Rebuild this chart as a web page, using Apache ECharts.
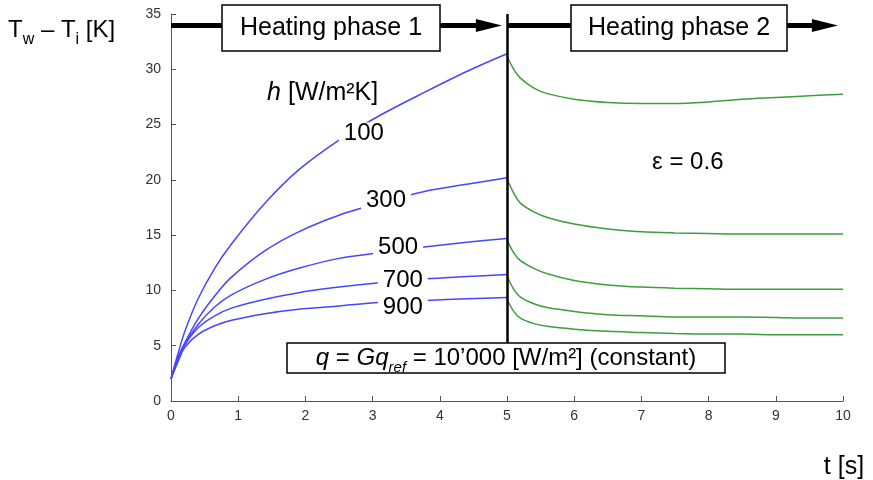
<!DOCTYPE html>
<html>
<head>
<meta charset="utf-8">
<script src="https://cdn.jsdelivr.net/npm/echarts@6/dist/echarts.min.js"></script>
<style>
html,body{margin:0;padding:0;background:#fff}
#main{width:873px;height:480px}
</style>
</head>
<body>
<div id="main"></div>
<script>
// heating phase 1 : t from 0 to 5 s
var heatT   = [0, 0.1, 0.2, 0.4, 0.65, 0.9, 1.4, 1.9, 2.5, 3.1, 3.8, 4.4, 5];
var heat100 = [2.0, 4.2, 6.2, 9.2, 12.0, 14.2, 17.9, 20.9, 23.6, 25.8, 28.0, 29.8, 31.4];
var heat300 = [2.0, 3.9, 5.2, 7.4, 9.5, 11.2, 13.6, 15.3, 16.8, 17.9, 19.0, 19.6, 20.2];
var heat500 = [2.0, 3.7, 5.1, 6.9, 8.5, 9.6, 11.0, 12.0, 12.9, 13.4, 13.95, 14.35, 14.7];
var heat700 = [2.0, 3.6, 5.0, 6.6, 7.7, 8.4, 9.2, 9.8, 10.3, 10.7, 11.05, 11.25, 11.45];
var heat900 = [2.0, 3.5, 4.8, 6.0, 6.8, 7.3, 7.9, 8.3, 8.6, 8.9, 9.1, 9.25, 9.35];

// heating phase 2 : t from 5 to 10 s (eps = 0.6)
var coolT   = [5, 5.1, 5.2, 5.4, 5.6, 6.0, 6.5, 7.0, 7.5, 8.0, 8.5, 9.0, 9.5, 10];
var cool100 = [31.2, 30.0, 29.2, 28.3, 27.8, 27.3, 27.0, 26.9, 26.9, 27.05, 27.3, 27.45, 27.6, 27.75];
var cool300 = [20.1, 18.8, 17.9, 17.1, 16.6, 16.0, 15.55, 15.3, 15.2, 15.15, 15.1, 15.1, 15.1, 15.1];
var cool500 = [14.6, 13.4, 12.7, 12.0, 11.5, 10.9, 10.5, 10.3, 10.2, 10.15, 10.1, 10.1, 10.1, 10.1];
var cool700 = [11.3, 10.1, 9.4, 8.8, 8.45, 8.1, 7.8, 7.7, 7.6, 7.6, 7.6, 7.55, 7.5, 7.5];
var cool900 = [9.2, 8.1, 7.5, 7.0, 6.75, 6.5, 6.3, 6.2, 6.1, 6.05, 6.05, 6.0, 6.0, 6.0];

var hNames = ['100', '300', '500', '700', '900'];
var xTicks = [0, 10, 1];   // min, max, step
var yTicks = [0, 35, 5];

var FONT = '"Liberation Sans", Arial, sans-serif';
var BLUE = '#4646ff';
var GREEN = '#3c9e3c';

function pairs(xs, ys) {
	return xs.map(function(x, i) { return [x, ys[i]]; });
}

function curve(name, xs, ys, color) {
	return {
		name: name,
		type: 'line',
		data: pairs(xs, ys),
		smooth: 0.3,
		showSymbol: false,
		symbol: 'none',
		silent: true,
		lineStyle: {color: color, width: 1.5},
		itemStyle: {color: color}
	};
}

var heats = [heat100, heat300, heat500, heat700, heat900];
var cools = [cool100, cool300, cool500, cool700, cool900];
var series = [];
heats.forEach(function(d, i) { series.push(curve('h' + hNames[i], heatT, d, BLUE)); });
cools.forEach(function(d, i) { series.push(curve('c' + hNames[i], coolT, d, GREEN)); });

// thick arrows on top + the phase separator
series.push({
	type: 'line', data: [], silent: true,
	markLine: {
		silent: true, animation: false,
		label: {show: false},
		symbol: ['none', 'triangle'],
		symbolSize: [13, 26],
		lineStyle: {color: '#000', type: 'solid', width: 5},
		data: [
			[{coord: [0, 33.95]}, {coord: [4.73, 33.95]}],
			[{coord: [5, 33.95]}, {coord: [9.73, 33.95]}]
		]
	}
});
series.push({
	type: 'line', data: [], silent: true,
	markLine: {
		silent: true, animation: false,
		label: {show: false},
		symbol: 'none',
		lineStyle: {color: '#000', type: 'solid', width: 2.5},
		data: [[{coord: [5, 35]}, {coord: [5, 5]}]]
	}
});

var chart = echarts.init(document.getElementById('main'));
chart.setOption({
	animation: false,
	backgroundColor: '#fff',
	grid: {left: 171, right: 30, top: 14, bottom: 79, containLabel: false, outerBoundsMode: 'none'},
	xAxis: {
		type: 'value', min: xTicks[0], max: xTicks[1], interval: xTicks[2],
		axisLine: {onZero: false, lineStyle: {color: '#555', width: 1}},
		axisTick: {inside: true, length: 5, lineStyle: {color: '#555'}},
		axisLabel: {color: '#333', fontSize: 14, fontFamily: FONT, margin: 8},
		splitLine: {show: false}
	},
	yAxis: {
		type: 'value', min: yTicks[0], max: yTicks[1], interval: yTicks[2],
		axisLine: {onZero: false, lineStyle: {color: '#555', width: 1}},
		axisTick: {inside: true, length: 5, lineStyle: {color: '#555'}},
		axisLabel: {color: '#333', fontSize: 14, fontFamily: FONT, margin: 10},
		splitLine: {show: false}
	},
	series: series
});

function px(t, v) { return chart.convertToPixel({gridIndex: 0}, [t, v]); }

function tag(text, t, v, extra) {
	var p = px(t, v);
	return {
		type: 'text', z: 100, x: p[0], y: p[1], silent: true,
		style: Object.assign({
			text: text, fontSize: 24, fontFamily: FONT, fill: '#000',
			align: 'center', verticalAlign: 'middle',
			backgroundColor: '#fff', padding: [0, 5], lineHeight: 22
		}, extra || {})
	};
}

function box(x0, y0, x1, y1, text, fs, rich) {
	return [{
		type: 'rect', z: 100, silent: true,
		shape: {x: x0, y: y0, width: x1 - x0, height: y1 - y0},
		style: {fill: '#fff', stroke: '#000', lineWidth: 1.5}
	}, {
		type: 'text', z: 101, silent: true, x: (x0 + x1) / 2, y: (y0 + y1) / 2,
		style: {text: text, fontSize: fs, fontFamily: FONT, fill: '#000',
			align: 'center', verticalAlign: 'middle', rich: rich || {}}
	}];
}

// curve labels, placed on the curves in data space
var labelPos = [[2.87, 24.2], [3.20, 18.1], [3.38, 13.9], [3.45, 10.9], [3.45, 8.5]];
var graphics = [];
hNames.forEach(function(n, i) {
	graphics.push(tag(n, labelPos[i][0], labelPos[i][1]));
});
graphics.push(tag('{i|h} [W/m²K]', 1.43, 27.85, {
	align: 'left', fontSize: 25, padding: 0,
	rich: {i: {fontStyle: 'italic', fontSize: 25, fontFamily: FONT}}
}));
graphics.push(tag('ε = 0.6', 7.69, 21.6, {padding: 0}));

graphics = graphics.concat(box(222, 5, 440, 51, 'Heating phase 1', 25));
graphics = graphics.concat(box(571, 5, 787, 51, 'Heating phase 2', 25));
graphics = graphics.concat(box(287, 343, 725, 373,
	'{i|q} = {i|Gq}{s|ref} = 10’000 [W/m²] (constant)', 24, {
		i: {fontStyle: 'italic', fontSize: 24, fontFamily: FONT, lineHeight: 34},
		s: {fontStyle: 'italic', fontSize: 15, fontFamily: FONT, verticalAlign: 'bottom'}
	}));

// axis titles
graphics.push({
	type: 'text', z: 100, silent: true, x: 8, y: 12,
	style: {
		text: 'T{s|w} – T{s|i} [K]', fontSize: 24, fontFamily: FONT, fill: '#000',
		align: 'left', verticalAlign: 'top', lineHeight: 36,
		rich: {s: {fontSize: 16, fontFamily: FONT, verticalAlign: 'bottom'}}
	}
});
graphics.push({
	type: 'text', z: 100, silent: true, x: 844, y: 467,
	style: {text: 't [s]', fontSize: 25, fontFamily: FONT, fill: '#000',
		align: 'center', verticalAlign: 'middle'}
});

chart.setOption({graphic: graphics});
</script>
</body>
</html>
